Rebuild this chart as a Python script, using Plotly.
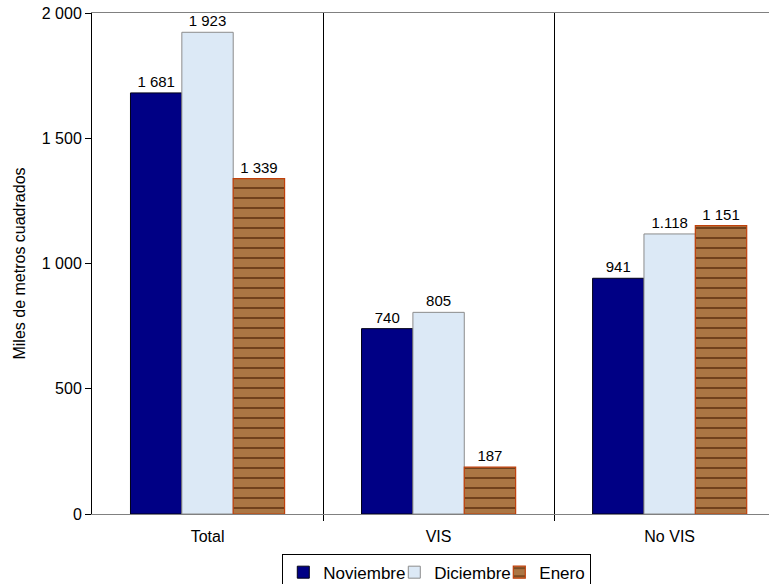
import plotly.graph_objects as go

categories = ["Total", "VIS", "No VIS"]
series_names = ["Noviembre", "Diciembre", "Enero"]
noviembre = [1681, 740, 941]
diciembre = [1923, 805, 1118]
enero = [1339, 187, 1151]
noviembre_labels = ["1 681", "740", "941"]
diciembre_labels = ["1 923", "805", "1.118"]
enero_labels = ["1 339", "187", "1 151"]
y_ticks = [0, 500, 1000, 1500, 2000]
y_ticktext = ["0", "500", "1 000", "1 500", "2 000"]

FONT = "Liberation Sans, Arial, sans-serif"
xpos = list(range(len(categories)))

fig = go.Figure()
fig.add_trace(go.Bar(
    x=xpos, y=noviembre, name=series_names[0], text=noviembre_labels,
    legendwidth=66,
    marker=dict(color="#000085", line=dict(color="#000018", width=1)),
))
fig.add_trace(go.Bar(
    x=xpos, y=diciembre, name=series_names[1], text=diciembre_labels,
    legendwidth=60,
    marker=dict(color="#dce9f6", line=dict(color="#8c8c8c", width=1)),
))
fig.add_trace(go.Bar(
    x=xpos, y=enero, name=series_names[2], text=enero_labels,
    marker=dict(color="#a36d3c", line=dict(color="#c0400a", width=1.2),
                pattern=dict(shape="-", fgcolor="#6a3b17", bgcolor="#ab7644",
                             size=10, solidity=0.18, fillmode="replace")),
))

fig.update_traces(textposition="outside", cliponaxis=False,
                  textfont=dict(family=FONT, size=15, color="black"))

fig.update_layout(
    width=769, height=584,
    margin=dict(l=92, r=0, t=13, b=70, autoexpand=False),
    paper_bgcolor="white", plot_bgcolor="white",
    barmode="group", bargap=0.333, bargroupgap=0,
    font=dict(family=FONT, size=16, color="black"),
    showlegend=True,
    legend=dict(orientation="h", xref="container", yref="container",
                x=0.568, xanchor="center", y=0.052, yanchor="top",
                bordercolor="black", borderwidth=1, bgcolor="white",
                font=dict(family=FONT, size=17, color="black"),
                itemwidth=30, tracegroupgap=0),
)

fig.update_xaxes(
    range=[-0.5, 2.43], tickmode="array", tickvals=xpos, ticktext=categories,
    ticks="outside", ticklen=8, tickcolor="rgba(0,0,0,0)",
    showgrid=False, zeroline=False, automargin=False,
    showline=True, linecolor="#808080", linewidth=1, mirror=True,
    tickfont=dict(family=FONT, size=16, color="black"),
    minor=dict(tickmode="array", tickvals=[0.5, 1.5], ticks="outside", ticklen=6,
               tickcolor="black", showgrid=True, gridcolor="black", gridwidth=1),
)
fig.update_yaxes(
    range=[0, 2000], tickmode="array", tickvals=y_ticks, ticktext=y_ticktext,
    ticks="outside", ticklen=6, tickcolor="black", ticklabeloverflow="allow",
    showgrid=False, zeroline=False, automargin=False,
    showline=True, linecolor="black", linewidth=1,
    tickfont=dict(family=FONT, size=16, color="black"),
    title=dict(text="Miles de metros cuadrados", font=dict(family=FONT, size=16, color="black"),
               standoff=12),
)

# remove the browser's default 8px body margin so the figure sits at the page origin
fig.write_html("out.html", config={"displayModeBar": False},
               post_script="document.body.style.margin='0';")
